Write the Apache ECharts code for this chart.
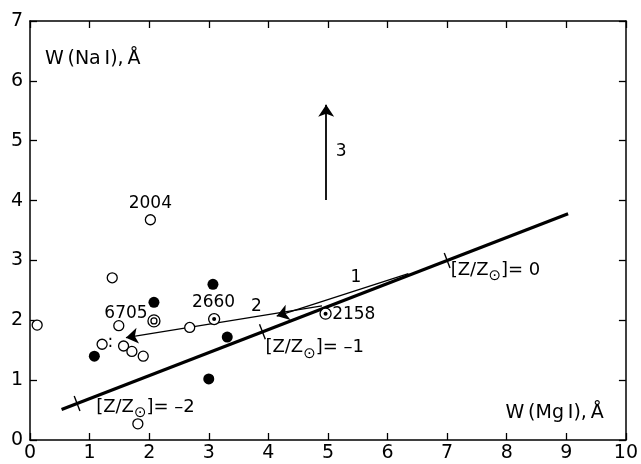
<!DOCTYPE html>
<html><head><meta charset="utf-8">
<script src="https://cdn.jsdelivr.net/npm/echarts@6/dist/echarts.min.js"></script>
<style>html,body{margin:0;padding:0;background:#fff}#c{width:641px;height:464px}</style>
</head><body><div id="c"></div>
<script>
const xTicks = [0,1,2,3,4,5,6,7,8,9,10];
const yTicks = [0,1,2,3,4,5,6,7];
const openPts = [[0.12,1.92],[1.38,2.71],[1.21,1.60],[1.49,1.91],[1.57,1.57],[1.71,1.48],[1.90,1.40],[1.81,0.27],[2.68,1.88],[2.02,3.68]];
const filledPts = [[1.08,1.40],[2.08,2.30],[3.07,2.60],[3.31,1.72],[3.00,1.02]];
const dotPts = [[3.09,2.02],[4.96,2.11]];
const doublePts = [[2.08,1.99]];
const metalLine = [[0.53,0.51],[9.03,3.78]];
const metalTicks = [[0.79,0.61],[3.90,1.81],[7.00,3.00]];
const arrow1 = [[6.35,2.78],[4.14,2.07]];
const arrow2 = [[4.90,2.24],[1.61,1.71]];
const arrow3 = [[4.97,4.01],[4.97,5.60]];
const starLabels = [["2004",2.02,3.95,"center"],["6705",1.61,2.12,"center"],["2660",3.08,2.29,"center"],["2158",5.07,2.10,"left"],[":",1.30,1.62,"left"]];
const arrowLabels = [["1",5.47,2.72],["2",3.80,2.23],["3",5.22,4.82]];
const metalLabels = [["0",7.06,2.84],["–1",3.95,1.54],["–2",1.11,0.55]];
const axisTitles = [["W\u2009(Na\u2009I),\u2009Å",0.25,6.36],["W\u2009(Mg\u2009I),\u2009Å",7.98,0.45]];

const FONT = "DejaVu Sans";
const chart = echarts.init(document.getElementById('c'), null, {renderer:'canvas'});
const axBase = {min:0, interval:1, axisLine:{show:true,onZero:false,lineStyle:{color:'#000',width:1.5}}, axisTick:{show:true,inside:true,length:7,lineStyle:{color:'#000',width:1.3}}, splitLine:{show:false}};
const txt = {color:'#000', fontFamily:FONT, fontSize:19};
const sunRich = {s:{fontFamily:FONT,fontSize:15,color:'#000',padding:[12,0,0,0]}, t:{fontFamily:FONT,fontSize:18,color:'#000'}};
const arrowMark = (pts, curv, w) => ({
  silent:true, symbol:['none','arrow'], symbolSize:12, label:{show:false},
  lineStyle:{color:'#000', width:w, type:'solid', curveness:curv, opacity:1},
  data:[[{coord:pts[0]},{coord:pts[1]}]]
});
const lbl = (extra) => Object.assign({show:true, position:'inside', formatter:p=>p.name, fontFamily:FONT, fontSize:17, color:'#000', textBorderWidth:0}, extra||{});

const option = {
  animation:false,
  backgroundColor:'#fff',
  grid:{left:30, right:10, top:21, bottom:24, containLabel:false},
  xAxis:[
    Object.assign({}, axBase, {type:'value', max:10, position:'bottom', axisLabel:Object.assign({margin:4, formatter:v=>xTicks.includes(v)?String(v):''}, txt)}),
    Object.assign({}, axBase, {type:'value', max:10, position:'top', axisLabel:{show:false}})
  ],
  yAxis:[
    Object.assign({}, axBase, {type:'value', max:7, position:'left', axisLabel:Object.assign({margin:7, formatter:v=>yTicks.includes(v)?String(v):''}, txt)}),
    Object.assign({}, axBase, {type:'value', max:7, position:'right', axisLabel:{show:false}})
  ],
  series:[
    {type:'line', data:metalLine, symbol:'none', lineStyle:{color:'#000',width:3.2}, z:2},
    {type:'scatter', data:metalTicks, symbol:'rect', symbolSize:[1.4,16], symbolRotate:21, itemStyle:{color:'#000',opacity:1}, z:3},
    {type:'line', data:[], symbol:'none', markLine:arrowMark(arrow1, -0.15, 1.3)},
    {type:'line', data:[], symbol:'none', markLine:arrowMark(arrow2, 0, 1.3)},
    {type:'line', data:[], symbol:'none', markLine:arrowMark(arrow3, 0, 1.8)},
    {type:'scatter', data:openPts, symbol:'circle', symbolSize:10, itemStyle:{color:'#fff',borderColor:'#000',borderWidth:1.3,opacity:1}, z:5},
    {type:'scatter', data:filledPts, symbol:'circle', symbolSize:11, itemStyle:{color:'#000',opacity:1}, z:5},
    {type:'scatter', data:dotPts, symbol:'circle', symbolSize:11, itemStyle:{color:'#fff',borderColor:'#000',borderWidth:1.3,opacity:1}, z:5},
    {type:'scatter', data:dotPts, symbol:'circle', symbolSize:4, itemStyle:{color:'#000',opacity:1}, z:6},
    {type:'scatter', data:doublePts, symbol:'circle', symbolSize:12, itemStyle:{color:'#fff',borderColor:'#000',borderWidth:1.3,opacity:1}, z:5},
    {type:'scatter', data:doublePts, symbol:'circle', symbolSize:6, itemStyle:{color:'#fff',borderColor:'#000',borderWidth:1.3,opacity:1}, z:6},
    {type:'scatter', symbolSize:0, z:7, itemStyle:{opacity:1},
      data:starLabels.map(d=>({value:[d[1],d[2]], label:{align:d[3]}, name:d[0]})),
      label:lbl()},
    {type:'scatter', symbolSize:0, z:7, itemStyle:{opacity:1},
      data:arrowLabels.map(d=>({value:[d[1],d[2]], name:d[0]})),
      label:lbl()},
    {type:'scatter', symbolSize:0, z:7, itemStyle:{opacity:1},
      data:metalLabels.map(d=>({value:[d[1],d[2]], name:d[0]})),
      label:lbl({align:'left', formatter:p=>'{t|[Z/Z}{s|⊙}{t|]= '+p.name+'}', rich:sunRich})},
    {type:'scatter', symbolSize:0, z:7, itemStyle:{opacity:1},
      data:axisTitles.map(d=>({value:[d[1],d[2]], name:d[0]})),
      label:lbl({align:'left', fontSize:19})}
  ]
};
chart.setOption(option);
</script></body></html>
